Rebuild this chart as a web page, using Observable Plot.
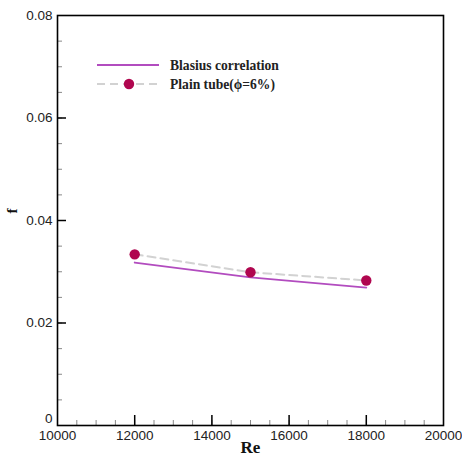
<!DOCTYPE html>
<html>
<head>
<meta charset="utf-8">
<script src="https://cdn.jsdelivr.net/npm/d3@7"></script>
<script src="https://cdn.jsdelivr.net/npm/@observablehq/plot@0.6"></script>
<style>
  body { margin: 0; background: #fff; }
  #chart { width: 462px; height: 464px; }
</style>
</head>
<body>
<div id="chart"></div>
<script>
// Friction factor vs Reynolds number
const re = [12000, 15000, 18000];
const blasius = [0.0318, 0.0289, 0.0269];
const plainTube = [0.0334, 0.0299, 0.0283];

const xTicks = [10000, 12000, 14000, 16000, 18000, 20000];
const xMinorTicks = d3.range(10500, 20000, 500);
const yTicks = [0, 0.02, 0.04, 0.06, 0.08];
const yMinorTicks = d3.range(0.005, 0.08, 0.005);

const seriesNames = ["Blasius correlation", "Plain tube(ϕ=6%)"];

const blasiusRows = re.map((r, i) => ({re: r, f: blasius[i]}));
const tubeRows = re.map((r, i) => ({re: r, f: plainTube[i]}));

const W = 462, H = 464;
const mL = 57, mR = 19, mT = 15, mB = 39;
const innerW = W - mL - mR, innerH = H - mT - mB;

const sans = "Liberation Sans, Arial, sans-serif";
const serif = "Liberation Serif, Times New Roman, serif";

const chart = Plot.plot({
  width: W,
  height: H,
  marginLeft: mL,
  marginRight: mR,
  marginTop: mT,
  marginBottom: mB,
  style: {background: "#fff", fontFamily: sans},
  x: {domain: [10000, 20000], axis: null},
  y: {domain: [0, 0.08], axis: null},
  marks: [
    // inward minor and major ticks
    Plot.tickX(xMinorTicks, {x: d => d, insetTop: innerH - 5, stroke: "#888", strokeWidth: 1}),
    Plot.tickX(xTicks.slice(1, -1), {x: d => d, insetTop: innerH - 10, stroke: "#000", strokeWidth: 1.5}),
    Plot.tickY(yMinorTicks, {y: d => d, insetRight: innerW - 5, stroke: "#888", strokeWidth: 1}),
    Plot.tickY(yTicks.slice(1, -1), {y: d => d, insetRight: innerW - 9, stroke: "#000", strokeWidth: 1.5}),
    Plot.axisX({ticks: xTicks, tickSize: 0, tickPadding: 5, tickFormat: d3.format("d"),
      fontSize: 13.5, fontFamily: sans, fill: "#222", label: null}),
    Plot.axisY({ticks: yTicks.slice(1), tickSize: 0, tickPadding: 5, tickFormat: d3.format(".2f"),
      fontSize: 13.5, fontFamily: sans, fill: "#222", label: null}),
    Plot.axisY({ticks: [0], tickSize: 0, tickPadding: 5, tickFormat: d => "0", dy: -7,
      fontSize: 13.5, fontFamily: sans, fill: "#222", label: null}),
    Plot.frame({stroke: "#000", strokeWidth: 1.6}),
    // axis titles
    Plot.text(["Re"], {frameAnchor: "bottom", dy: 27, text: d => d, fontFamily: serif,
      fontWeight: "bold", fontSize: 17, fill: "#111"}),
    Plot.text(["f"], {frameAnchor: "left", dx: -45, dy: -7, rotate: -90, text: d => d,
      fontFamily: serif, fontWeight: "bold", fontSize: 15, fill: "#111"}),
    // data
    Plot.line(tubeRows, {x: "re", y: "f", stroke: "#d2d2d2", strokeWidth: 2, strokeDasharray: "8,5"}),
    Plot.line(blasiusRows, {x: "re", y: "f", stroke: "#b24cbf", strokeWidth: 1.8}),
    Plot.dot(tubeRows, {x: "re", y: "f", r: 5.2, fill: "#b0064f", stroke: "none"})
  ]
});

document.getElementById("chart").appendChild(chart);

// legend inside the plot area
const svg = d3.select(chart);
const lg = svg.append("g").attr("transform", `translate(${mL + 40},${mT + 50})`);
lg.append("line").attr("x1", 0).attr("x2", 62).attr("y1", 0).attr("y2", 0)
  .attr("stroke", "#b24cbf").attr("stroke-width", 1.8);
lg.append("line").attr("x1", 0).attr("x2", 62).attr("y1", 19).attr("y2", 19)
  .attr("stroke", "#d2d2d2").attr("stroke-width", 2).attr("stroke-dasharray", "8,5");
lg.append("circle").attr("cx", 32).attr("cy", 19).attr("r", 5.2).attr("fill", "#b0064f");
lg.selectAll("text.lbl").data(seriesNames).join("text")
  .attr("class", "lbl")
  .attr("x", 73).attr("y", (d, i) => i * 19).attr("dy", "0.35em")
  .attr("text-anchor", "start")
  .attr("font-family", serif).attr("font-weight", "bold").attr("font-size", 13.6)
  .attr("fill", "#222").text(d => d);
</script>
</body>
</html>
